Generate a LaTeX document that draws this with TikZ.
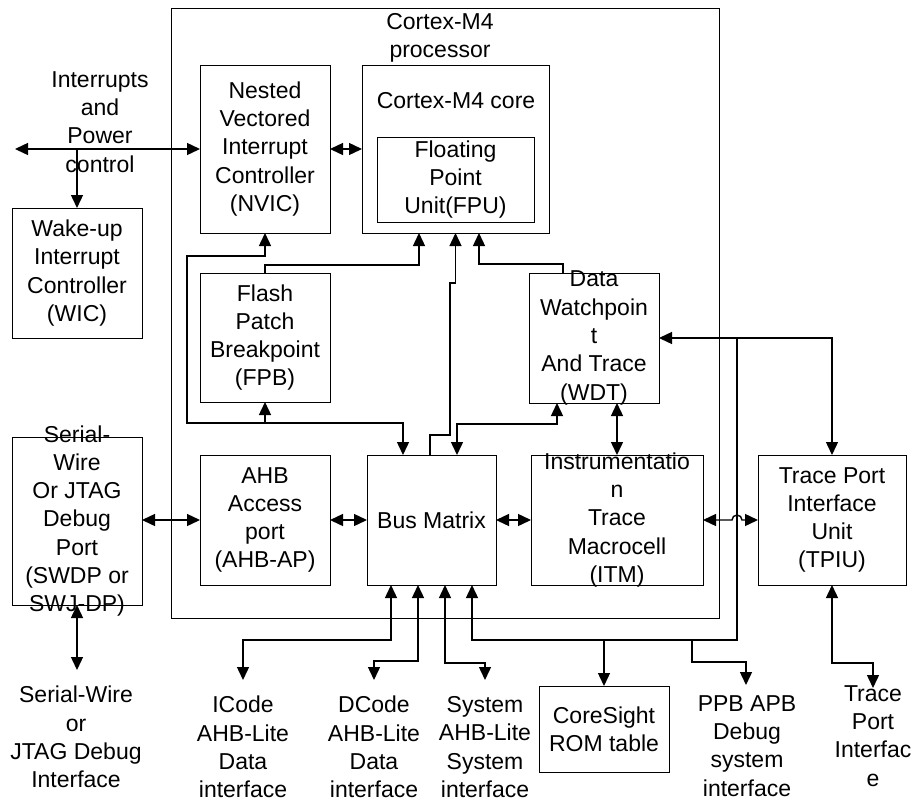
\documentclass[tikz,border=0pt]{standalone}
\usepackage{fontspec}
\setmainfont{Liberation Sans}
\usetikzlibrary{arrows.meta}

\tikzset{
  blk/.style={draw, line width=0.9pt, inner sep=0pt, outer sep=0pt, align=center},
  txt/.style={align=center, inner sep=0pt},
  arr/.style={line width=1.4pt, -{Triangle[length=13pt,width=12pt]}},
  dbl/.style={line width=1.4pt, {Triangle[length=13pt,width=12pt]}-{Triangle[length=13pt,width=12pt]}},
}

\begin{document}
\begin{tikzpicture}[x=1pt, y=-1pt, font=\fontsize{23}{28.3}\selectfont]
\useasboundingbox (0,0) rectangle (914,801);

% Processor outline
\node[blk, minimum width=548pt, minimum height=610pt] (proc) at (445,313) {};
\node[txt] (proct) at (440,38) {Cortex-M4\\processor};

% Core and FPU
\node[blk, minimum width=187pt, minimum height=168pt] (core) at (455.5,149) {};
\node[txt] (coret) at (456,101) {Cortex-M4 core};
\node[blk, minimum width=157pt, minimum height=85pt] (fpu) at (455.5,179.5) {Floating\\Point\\Unit(FPU)};

% Blocks inside the processor
\node[blk, minimum width=130pt, minimum height=168pt] (nvic) at (265,149) {Nested\\Vectored\\Interrupt\\Controller\\(NVIC)};
\node[blk, minimum width=130pt, minimum height=129pt] (fpb) at (265,337.5) {Flash\\Patch\\Breakpoint\\(FPB)};
\node[blk, minimum size=130pt] (dwt) at (594,338) {};
\node[txt] (dwtt) at (dwt) {Data\\Watchpoin\\t\\And Trace\\(WDT)};
\node[blk, minimum size=130pt] (ahbap) at (265,520) {AHB\\Access\\port\\(AHB-AP)};
\node[blk, minimum width=129pt, minimum height=130pt] (bus) at (431.5,520) {Bus Matrix};
\node[blk, minimum width=172pt, minimum height=130pt] (itm) at (617,520) {};
\node[txt] (itmt) at (itm) {Instrumentatio\\n\\Trace\\Macrocell\\(ITM)};

% Blocks outside the processor
\node[blk, minimum size=130pt] (wic) at (77,273) {Wake-up\\Interrupt\\Controller\\(WIC)};
\node[blk, minimum width=130pt, minimum height=168pt] (swdp) at (77,521) {};
\node[txt] (swdpt) at (swdp) {Serial-\\Wire\\Or JTAG\\Debug\\Port\\(SWDP or\\SWJ-DP)};
\node[blk, minimum width=148pt, minimum height=130pt] (tpiu) at (832,520) {Trace Port\\Interface\\Unit\\(TPIU)};
\node[blk, minimum width=130pt, minimum height=86pt] (rom) at (604,729) {CoreSight\\ROM table};

% External interfaces
\node[txt] (irq) at (100,122) {Interrupts\\and\\Power\\control};
\node[txt] (swif) at (76,737) {Serial-Wire\\or\\JTAG Debug\\Interface};
\node[txt] (icode) at (243,747) {ICode\\AHB-Lite\\Data\\interface};
\node[txt] (dcode) at (374,747) {DCode\\AHB-Lite\\Data\\interface};
\node[txt] (sysif) at (485,747) {System\\AHB-Lite\\System\\interface};
\node[txt] (ppb) at (747,746) {PPB APB\\Debug\\system\\interface};
\node[txt] (trace) at (873,736) {Trace\\Port\\Interfac\\e};

\coordinate (irqend) at (15,149);
\coordinate (swin) at (77,670);
\coordinate (icodein) at (243,680);
\coordinate (dcodein) at (374,680);
\coordinate (sysin) at (485,680);
\coordinate (ppbin) at (746,685);
\coordinate (tracein) at (873,688);

% Interrupts and power
\draw[dbl] (irqend) -- (nvic.west);
\draw[arr] (wic.north |- nvic.west) -- (wic.north);
\draw[dbl] (nvic.east) -- (core.west);

% Paths up to NVIC and core
\draw[dbl] (nvic.south) -- ++(0,23) -- ++(-78,0) -- ++(0,167) -| ([xshift=-28.5pt]bus.north);
\draw[arr] ([yshift=-21pt]fpb.south) -- (fpb.south);
\draw[arr] (fpb.north) -- ++(0,-8) -| ([xshift=-36.5pt]core.south);
\draw[arr] ([xshift=-1.5pt]bus.north) -- ++(0,-20) -- ++(20,0) -- ++(0,-152) -| (core.south);
\draw[arr] ([xshift=-31pt]dwt.north) -- ++(0,-9) -| ([xshift=23.5pt]core.south);
\draw[dbl] ([xshift=25.5pt]bus.north) -- ++(0,-31) -| ([xshift=-37pt]dwt.south);
\draw[dbl] (dwt.south -| itm.north) -- (itm.north);

% Debug and trace row
\draw[dbl] (swdp.east |- ahbap.west) -- (ahbap.west);
\draw[dbl] (ahbap.east) -- (bus.west);
\draw[dbl] (bus.east) -- (itm.west);
\draw[dbl] (itm.east) -- ++(29,0) arc[start angle=180, end angle=360, radius=5] -- (tpiu.west);

% Private peripheral bus
\draw[dbl] (dwt.east) -| (tpiu.north);
\draw[arr] ([xshift=18pt]proc.east |- dwt.east) -- ++(0,302) -| ([xshift=40.5pt]bus.south);
\draw[arr] ([yshift=46pt]rom.north) -- (rom.north);
\draw[arr] ([xshift=88pt,yshift=46pt]rom.north) -- ++(0,22) -| (ppbin);

% Bus interfaces
\draw[dbl] ([xshift=-40.5pt]bus.south) -- ++(0,55) -| (icodein);
\draw[dbl] ([xshift=-13.5pt]bus.south) -- ++(0,76) -| (dcodein);
\draw[dbl] ([xshift=13.5pt]bus.south) -- ++(0,78) -| (sysin);

% Debug port and trace port
\draw[dbl] (swdp.south) -- (swin);
\draw[dbl] (tpiu.south) -- ++(0,78) -| (tracein);
\end{tikzpicture}
\end{document}
